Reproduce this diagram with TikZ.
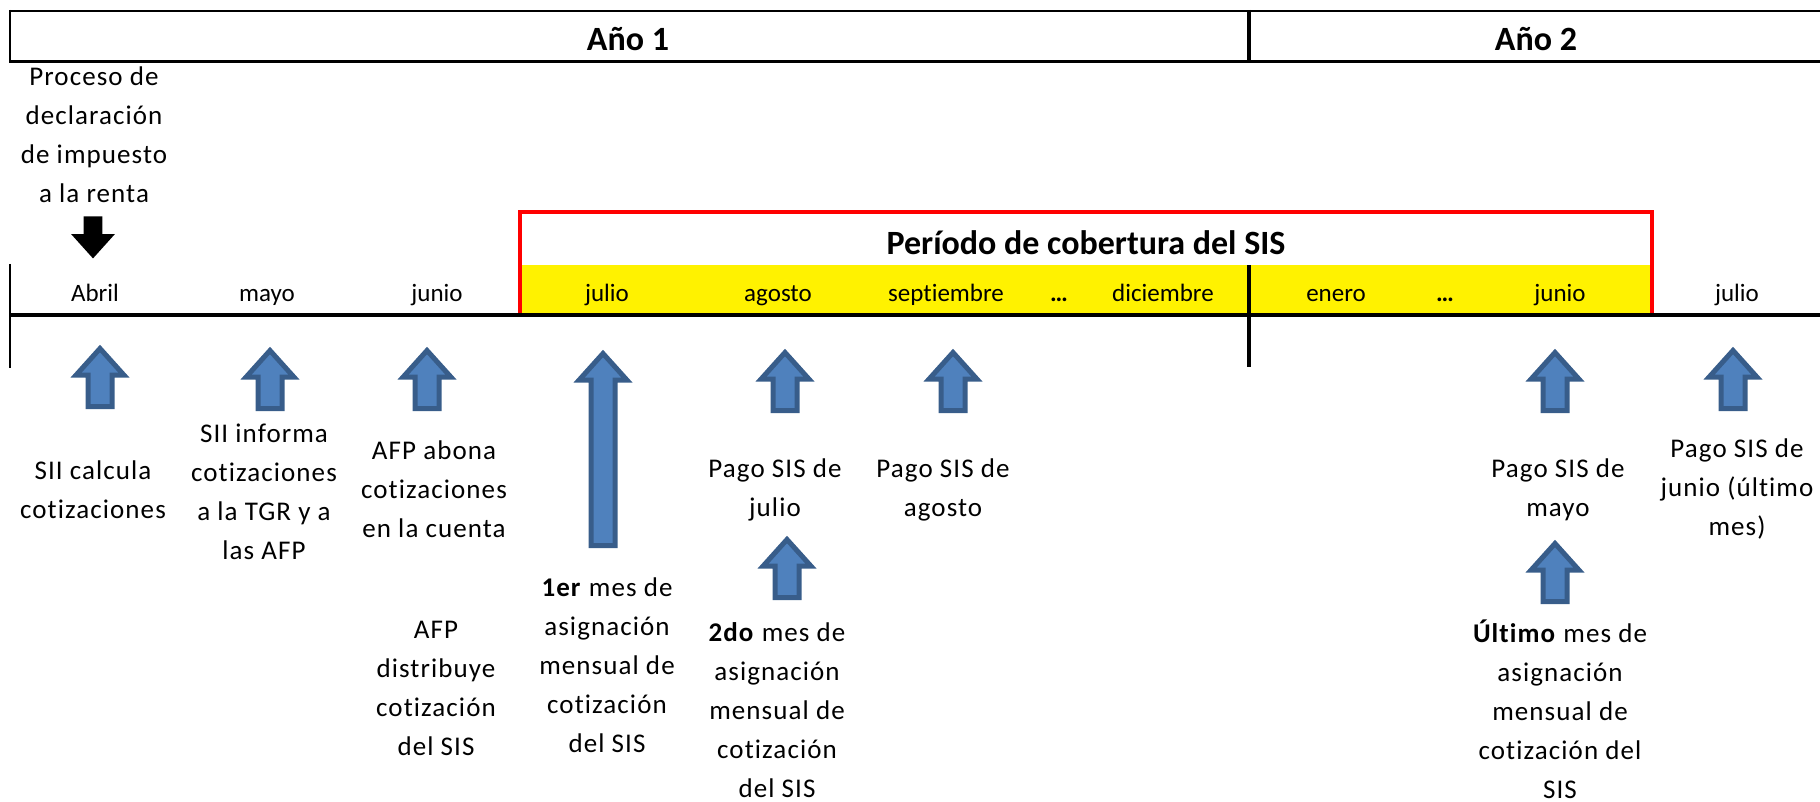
\documentclass[tikz,border=0pt]{standalone}
\usepackage{fontspec}
\setmainfont{Carlito}[Ligatures=CommonOff]
\newfontfamily\espaciada[LetterSpace=4, Ligatures=CommonOff]{Carlito}
\usepackage{tikz}
\usetikzlibrary{shapes,arrows,positioning}

\definecolor{azulflecha}{HTML}{4F81BD}
\definecolor{bordeflecha}{HTML}{385D8A}

\tikzset{
	texto/.style={align=center, inner sep=0pt, font=\espaciada\fontsize{13.5}{19.5}\selectfont},
	mes/.style={inner sep=0pt, anchor=base, font=\fontsize{12.5}{14}\selectfont},
	anio/.style={inner sep=0pt, font=\bfseries\fontsize{17}{20}\selectfont},
	flecha/.style={single arrow, rotate=90, anchor=tail, draw=bordeflecha, fill=azulflecha, line width=2.5pt,
		inner xsep=0pt, inner ysep=4.75pt, minimum width=21.5pt, single arrow head extend=6pt, single arrow tip angle=84, minimum height=#1},
	flecha/.default=29pt
}

\begin{document}
\begin{tikzpicture}[x=0.5pt, y=-0.5pt]
		\useasboundingbox (0,0) rectangle (1820,802);
		% encabezado de los anios
		\draw[line width=1pt] (10,11) -- (1820,11);
		\draw[line width=1.5pt] (10,62) -- (1820,62);
		\draw[line width=1pt] (10,10) -- (10,63);
		\draw[line width=2pt] (1249,10) -- (1249,63);
		\node[anio] (anio1) at (628,39) {Año 1};
		\node[anio] (anio2) at (1536,39) {Año 2};

		% periodo de cobertura
		\fill[yellow] (520,265) rectangle (1652,315);
		\draw[red, line width=2pt] (520,315) -- (520,212) -- (1652,212) -- (1652,315);
		\node[anio] (cobertura) at (1086,243) {Período de cobertura del SIS};

		% linea de tiempo
		\draw[line width=2pt] (10,315) -- (1820,315);
		\draw[line width=1pt] (10,264) -- (10,368);
		\draw[line width=2pt] (1249,265) -- (1249,367);

		\node[mes] (abril) at (95,301.5) {Abril};
		\node[mes] (mayo) at (267,301.5) {mayo};
		\node[mes] (junio) at (437,301.5) {junio};
		\node[mes] (julio) at (607,301.5) {julio};
		\node[mes] (agosto) at (778,301.5) {agosto};
		\node[mes] (septiembre) at (946,301.5) {septiembre};
		\node[mes] (puntos1) at (1059,301.5) {\textbf{…}};
		\node[mes] (diciembre) at (1163,301.5) {diciembre};
		\node[mes] (enero) at (1336,301.5) {enero};
		\node[mes] (puntos2) at (1445,301.5) {\textbf{…}};
		\node[mes] (junio2) at (1560,301.5) {junio};
		\node[mes] (julio2) at (1737,301.5) {julio};

		% declaracion de renta
		\node[texto] (renta) at (94,135) {Proceso de\\declaración\\de impuesto\\a la renta};
		\node[single arrow, rotate=-90, anchor=tip, fill=black, inner xsep=0pt, inner ysep=4.5pt, minimum width=21.5pt,
			single arrow head extend=6.25pt, single arrow tip angle=84, minimum height=21pt] (baja) at (93,259) {};

		% flechas
		\node[flecha] (f1) at (100,409) {};
		\node[flecha] (f2) at (270,411) {};
		\node[flecha] (f3) at (427,411) {};
		\node[flecha=96pt] (f4) at (603,548) {};
		\node[flecha] (f5) at (785,413) {};
		\node[flecha] (f6) at (953,413) {};
		\node[flecha] (f7) at (787,600) {};
		\node[flecha] (f8) at (1555,413) {};
		\node[flecha] (f9) at (1733,411) {};
		\node[flecha] (f10) at (1555,604) {};

		% textos
		\node[texto] (t1) at (93,490) {SII calcula\\cotizaciones};
		\node[texto] (t2) at (264,492) {SII informa\\cotizaciones\\a la TGR y a\\las AFP};
		\node[texto] (t3) at (434,489) {AFP abona\\cotizaciones\\en la cuenta};
		\node[texto] (t4) at (436,688) {AFP\\distribuye\\cotización\\del SIS};
		\node[texto] (t5) at (607,665) {\textbf{1er} mes de\\asignación\\mensual de\\cotización\\del SIS};
		\node[texto] (t6) at (775,490) {Pago SIS de\\julio};
		\node[texto] (t7) at (777,710) {\textbf{2do} mes de\\asignación\\mensual de\\cotización\\del SIS};
		\node[texto] (t8) at (943,490) {Pago SIS de\\agosto};
		\node[texto] (t9) at (1558,490) {Pago SIS de\\mayo};
		\node[texto] (t10) at (1560,709) {\textbf{Último} mes de\\asignación\\mensual de\\cotización del\\SIS};
		\node[texto] (t11) at (1737,489) {Pago SIS de\\junio (último\\mes)};
\end{tikzpicture}
\end{document}
